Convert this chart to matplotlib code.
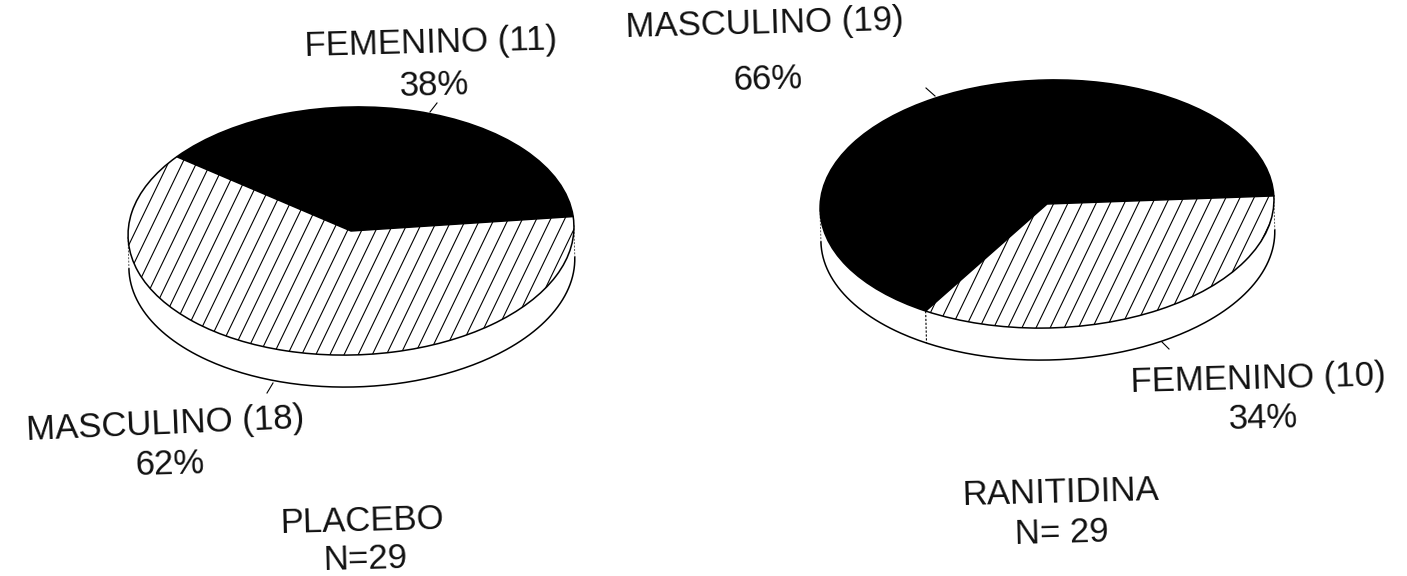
import numpy as np
import matplotlib
matplotlib.use("Agg")
import matplotlib.pyplot as plt
from matplotlib.collections import LineCollection
from matplotlib.transforms import Affine2D

plt.rcParams["font.family"] = ["Liberation Sans", "DejaVu Sans"]

WIDTH, HEIGHT = 1407, 576
TILT = 1.5

# Patient counts per group
placebo_counts = [11, 18]       # femenino, masculino
ranitidina_counts = [19, 10]    # masculino, femenino
placebo_sexes = ["FEMENINO", "MASCULINO"]
ranitidina_sexes = ["MASCULINO", "FEMENINO"]
placebo_title = ["PLACEBO", "N=29"]
ranitidina_title = ["RANITIDINA", "N= 29"]

fig = plt.figure(figsize=(WIDTH / 100, HEIGHT / 100), dpi=100, facecolor="white")

# Overlay in pixel units for text and leader ticks
page = fig.add_axes([0, 0, 1, 1], zorder=5)
page.patch.set_alpha(0)
page.set_xlim(0, WIDTH)
page.set_ylim(HEIGHT, 0)
page.axis("off")


def disc(counts, cx, cy, rx, ry, depth, start, hatched, divider=False):
    """Tilted pie: an elliptical top face over a shallow cylindrical side."""
    ax = fig.add_axes([0, 0, 1, 1])
    ax.patch.set_alpha(0)
    wedges, _ = ax.pie(
        counts, startangle=start, radius=1, colors=["black", "white"],
        wedgeprops=dict(edgecolor="black", linewidth=1.1, zorder=3),
    )
    ax.set_aspect("auto")
    ax.set_xlim(-cx / rx, (WIDTH - cx) / rx)
    ax.set_ylim((cy - HEIGHT) / ry, cy / ry)
    ax.axis("off")
    tilt = ax.transData + Affine2D().rotate_deg_around(cx, HEIGHT - cy, TILT)
    for w in wedges:
        w.set_transform(tilt)

    d = depth / ry
    t = np.linspace(np.pi, 2 * np.pi, 200)
    ax.plot(np.cos(t), np.sin(t) - d, color="black", lw=1.1, zorder=2, transform=tilt)
    for x in (-1, 1):
        ax.plot([x, x], [0, -d], color="#555555", lw=0.7, ls=(0, (2, 1.5)), zorder=2,
                transform=tilt)
    if divider:
        angle = np.deg2rad(start + 360 * counts[0] / sum(counts))
        x, y = np.cos(angle), np.sin(angle)
        ax.plot([x, x], [y, y - d], color="black", lw=0.8, ls=(0, (2, 1.5)), zorder=2,
                transform=tilt)

    # Steep diagonal shading clipped to the white wedge
    spacing, slope = 14.3, 1.85
    offsets = np.arange(-rx - ry, rx + ry, spacing)
    segments = [[((o - ry / slope) / rx, -1.05), ((o + ry / slope) / rx, 1.05)]
                for o in offsets]
    shade = LineCollection(segments, colors="black", linewidths=0.8, zorder=4,
                           transform=tilt)
    ax.add_collection(shade, autolim=False)
    shade.set_clip_path(wedges[hatched])
    return ax


disc(placebo_counts, 351, 231, 223, 124, 32, 4, 1)
disc(ranitidina_counts, 1047, 204, 227, 124, 32, 1, 1, divider=True)


def label(x, y, s, rot=1.5):
    page.text(x, y, s, ha="center", va="center", fontsize=25, rotation=rot,
              color="#111111", zorder=10)


def pct(counts, i):
    return f"{round(100 * counts[i] / sum(counts))}%"


label(431, 43, f"{placebo_sexes[0]} ({placebo_counts[0]})")
label(434, 86, pct(placebo_counts, 0))
label(165, 424, f"{placebo_sexes[1]} ({placebo_counts[1]})", rot=2.5)
label(170, 465, pct(placebo_counts, 1))
label(765, 24, f"{ranitidina_sexes[0]} ({ranitidina_counts[0]})")
label(768, 80, pct(ranitidina_counts, 0))
label(1258, 379, f"{ranitidina_sexes[1]} ({ranitidina_counts[1]})")
label(1263, 419, pct(ranitidina_counts, 1))
label(362, 521, placebo_title[0])
label(365, 559, placebo_title[1])
label(1060, 493, ranitidina_title[0])
label(1062, 533, ranitidina_title[1])

# Leader ticks from labels to the discs
for xs, ys in [((430, 437), (112, 103)), ((267, 273), (393, 383)),
               ((926, 935), (88, 96)), ((1162, 1169), (342, 349))]:
    page.plot(xs, ys, color="black", lw=0.8)

fig.savefig("out.png", dpi=100)
